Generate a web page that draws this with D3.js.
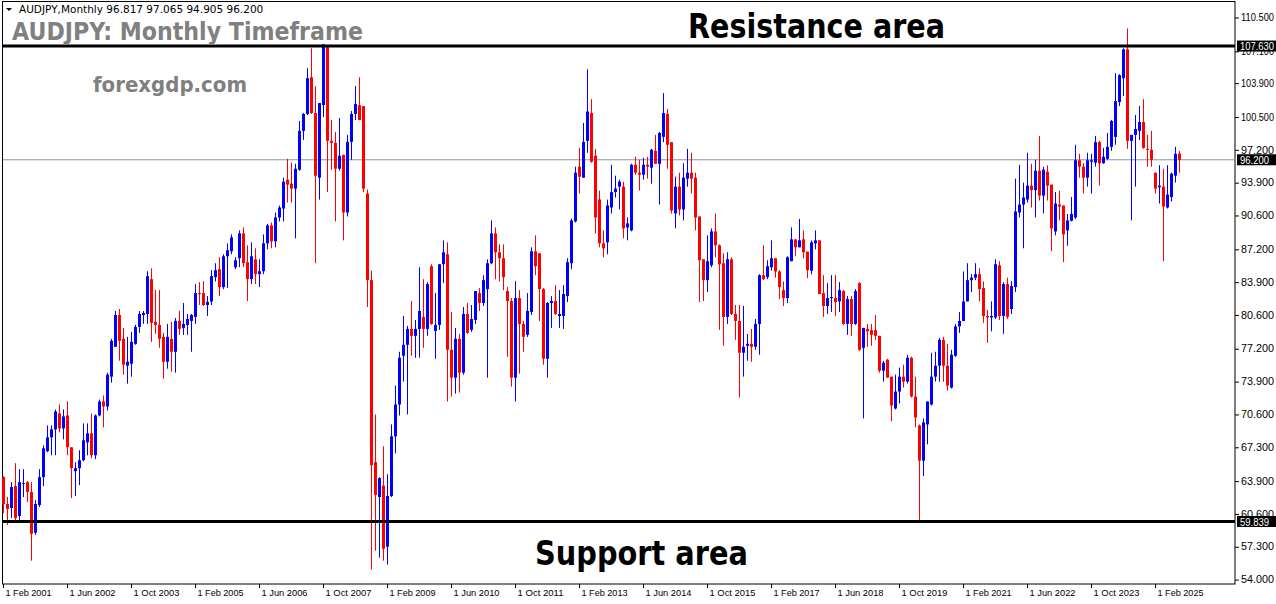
<!DOCTYPE html>
<html><head><meta charset="utf-8">
<script src="https://cdn.jsdelivr.net/npm/d3@7"></script>
<style>body{margin:0;background:#fff}svg{display:block}</style>
</head><body>
<svg id="c" width="1276" height="604"></svg>
<script>
const opens=[64.3,61.6,61.2,63.4,60.4,63.6,63.8,62.8,58.7,61.5,
64.3,66.9,68.3,69.1,70.7,69.2,70.5,67.3,64.9,65.2,
66.0,67.8,68.7,66.5,70.5,71.9,71.4,74.4,77.4,80.6,
78.2,75.5,75.7,77.7,79.4,80.6,80.7,84.2,79.9,79.6,
78.4,75.9,78.2,76.9,80.0,79.3,79.6,80.0,80.4,82.8,
82.8,81.6,81.95,84.4,85.2,83.4,86.5,87.0,85.4,86.3,
88.8,85.9,84.2,86.2,84.7,85.0,87.8,89.6,88.0,90.4,
91.3,94.2,93.8,93.3,95.2,99.1,100.8,104.5,100.9,94.4,
101.7,107.7,98.1,97.9,95.3,96.7,90.9,98.0,100.8,101.7,
101.6,92.8,84.1,65.8,62.3,63.45,57.3,62.4,68.4,71.6,
76.5,77.6,79.2,78.5,79.2,80.4,79.2,85.5,79.0,79.6,
85.7,86.7,77.1,74.3,78.2,74.8,80.7,79.1,80.1,82.8,
81.8,83.2,85.8,88.8,86.9,86.3,83.0,82.0,74.3,82.3,
79.7,78.6,80.9,87.0,86.8,83.2,76.2,81.8,82.0,80.5,
80.5,82.5,85.8,90.0,95.5,94.4,98.1,100.9,96.6,92.2,
87.8,87.9,91.4,92.95,93.5,93.5,89.4,89.1,95.7,94.9,
94.7,95.7,95.4,97.1,95.8,98.5,100.8,97.97,90.8,93.5,
91.2,94.3,94.9,94.4,90.5,86.2,84.1,85.6,89.0,87.6,
85.8,80.4,86.2,80.7,80.0,76.8,77.5,77.7,77.4,79.7,
84.6,84.4,85.4,86.3,84.97,83.1,82.3,86.0,88.2,87.4,
88.2,86.97,85.05,87.8,88.1,82.8,81.5,82.3,82.3,81.96,
83.0,79.7,82.2,79.7,83.8,77.3,79.2,79.07,79.07,78.5,
75.0,76.1,74.4,71.2,72.9,74.4,73.9,76.3,72.4,69.5,
65.96,69.6,71.6,74.4,75.5,78.1,75.5,73.3,76.5,79.45,
80.0,81.96,84.1,84.35,84.7,83.3,80.5,80.35,80.35,85.6,
80.5,83.7,81.2,83.4,90.9,91.7,92.2,93.6,93.15,95.1,
92.6,95.0,93.7,89.0,91.7,91.6,89.1,90.06,90.4,96.15,
95.5,94.4,96.0,95.9,97.97,95.85,96.3,97.5,98.5,102.0,
104.4,107.3,98.1,98.7,99.1,100.0,97.3,97.2,94.9,93.45,
93.5,91.4,92.45,94.6,96.82];
const closes=[61.6,61.1,63.3,60.2,63.8,63.7,62.8,58.6,61.6,64.3,
67.2,68.3,69.1,70.9,69.2,70.4,67.3,65.2,65.2,66.0,
68.0,68.7,66.5,70.5,71.9,71.4,74.6,78.0,80.6,78.0,
75.6,75.9,77.9,79.4,80.7,80.8,84.5,79.8,79.6,78.2,
75.9,78.4,76.9,80.0,79.2,79.7,80.2,80.6,82.8,82.7,
81.6,81.9,84.5,85.1,83.4,86.5,87.1,88.4,86.1,88.8,
85.8,84.2,86.5,84.7,85.0,87.8,89.6,88.0,90.4,91.4,
94.0,93.7,93.3,95.3,99.1,100.8,104.4,100.9,94.6,101.9,
107.8,98.1,97.9,95.3,96.6,90.9,98.0,100.8,101.8,100.2,
93.3,84.1,65.5,62.5,64.2,57.1,62.4,68.4,71.6,76.3,
77.6,79.2,78.5,79.2,81.0,79.2,83.7,79.7,79.6,85.7,
86.9,77.1,74.3,78.2,74.8,80.7,78.8,80.2,83.0,81.8,
84.1,85.8,88.8,86.9,86.3,84.4,82.0,74.3,82.3,79.7,
78.4,81.0,87.0,85.5,83.2,76.2,81.8,82.0,80.7,80.7,
82.7,85.9,90.1,94.9,94.5,98.0,101.05,96.0,90.4,87.8,
87.3,91.6,92.95,93.3,94.0,89.3,89.8,95.7,94.9,94.7,
95.7,95.5,97.2,95.8,98.9,100.9,97.7,91.1,93.5,91.2,
94.4,94.9,94.3,90.4,86.1,84.1,86.0,89.0,87.6,85.7,
80.4,86.2,80.7,80.0,76.8,77.4,77.7,77.4,79.7,84.6,
84.2,85.5,86.3,84.97,83.4,82.3,86.4,88.2,87.4,88.1,
86.9,85.1,87.9,88.1,82.7,81.5,82.3,82.4,81.9,83.1,
79.7,82.2,79.7,83.0,77.1,79.3,78.95,78.6,78.5,75.0,
75.8,74.3,71.5,72.9,74.4,73.9,76.3,72.4,70.3,65.96,
69.8,71.9,74.4,75.5,78.1,75.5,73.5,76.6,79.45,80.0,
81.96,84.1,84.35,84.7,83.2,80.5,80.35,80.5,85.7,80.5,
83.7,80.4,83.5,91.0,91.7,92.4,93.6,93.15,95.1,92.6,
95.2,93.6,89.3,91.8,91.5,88.7,90.1,90.75,96.15,95.5,
94.4,96.15,96.15,97.97,95.85,96.5,97.5,100.1,102.1,104.7,
107.3,98.1,98.7,99.3,100.0,97.4,97.2,96.2,93.3,93.6,
91.5,92.7,94.8,96.8,96.2];
const highs=[64.4,62.3,63.8,65.7,65.1,65.1,63.9,63.8,62.0,65.1,
67.5,69.5,69.5,71.1,71.6,71.1,71.9,67.3,65.8,67.0,
69.7,69.7,70.7,70.6,72.1,72.5,74.8,78.2,81.0,81.2,
79.3,78.4,78.9,79.6,81.0,81.0,85.0,85.3,83.1,83.1,
78.8,79.7,79.9,80.3,81.0,81.8,80.7,80.7,83.7,83.9,
84.0,82.5,85.1,85.8,86.4,86.7,87.8,88.7,86.4,89.1,
89.4,87.6,87.9,87.3,86.2,88.7,89.75,89.9,90.9,91.6,
94.4,96.3,95.9,95.8,100.1,100.9,105.4,107.4,103.6,101.9,
107.8,107.7,100.2,99.0,100.4,96.7,98.7,101.1,103.6,104.5,
101.6,93.2,85.05,70.6,64.3,67.4,64.6,69.6,73.5,76.9,
80.5,79.5,82.0,80.1,85.4,84.2,83.9,85.7,82.8,85.7,
88.1,87.9,80.9,79.3,78.7,81.4,81.8,81.6,83.0,83.3,
84.6,86.2,90.1,89.4,87.7,87.7,83.4,82.3,84.0,83.1,
80.0,82.8,87.4,88.6,86.8,83.3,81.9,82.5,83.6,83.1,
83.6,86.3,90.3,95.5,97.4,99.9,105.3,102.3,97.3,93.1,
89.1,92.2,95.7,94.6,94.2,94.0,90.4,95.8,96.5,96.2,
96.4,96.5,97.3,98.7,99.0,102.9,101.3,97.97,94.5,94.9,
95.85,97.3,96.9,94.9,90.5,86.2,88.6,89.3,90.8,87.7,
86.8,86.9,86.4,81.6,81.6,81.5,78.7,79.2,80.2,84.7,
87.6,86.1,88.1,86.3,85.1,83.97,86.5,89.4,88.2,90.25,
89.1,86.97,88.1,89.1,88.1,84.6,83.8,84.6,84.6,83.9,
83.1,82.5,82.5,83.2,83.9,79.3,79.7,79.7,80.6,78.5,
75.98,76.2,74.4,74.6,75.3,75.6,76.6,76.4,74.4,69.6,
70.2,71.9,76.8,76.9,78.3,78.4,77.7,77.1,79.7,80.9,
84.97,85.8,84.7,85.8,85.3,83.97,81.1,81.96,86.2,86.0,
83.9,84.35,84.0,94.3,95.7,93.9,96.9,95.8,96.2,98.6,
95.5,95.65,93.7,92.95,93.1,91.6,90.75,92.45,97.7,96.8,
95.85,96.9,96.8,98.6,98.1,97.4,98.9,100.2,104.9,104.8,
107.4,109.4,98.7,100.7,101.6,102.3,98.7,99.1,94.9,95.65,
95.3,95.65,94.9,97.5,97.07];
const lows=[60.7,59.5,60.2,59.8,59.9,62.3,61.8,55.9,58.5,61.3,
63.4,66.8,66.5,66.5,68.8,68.1,66.5,62.2,62.4,63.5,
65.9,66.5,66.2,66.1,70.4,69.3,71.0,73.8,77.4,76.0,
74.6,73.7,74.4,77.6,78.8,79.7,79.7,77.9,78.7,77.3,
74.2,75.2,74.9,74.8,78.6,78.6,78.6,76.9,79.7,81.6,
81.5,80.5,81.6,83.97,82.5,83.2,83.3,86.7,85.2,85.4,
85.4,82.0,83.7,83.7,83.4,84.7,87.2,87.3,87.4,90.0,
90.0,91.9,91.9,88.3,95.1,98.2,100.7,100.8,85.8,92.2,
100.5,92.95,95.2,90.0,95.1,88.1,90.5,96.2,100.2,100.2,
92.95,81.4,55.0,56.9,56.2,55.9,55.5,62.3,66.7,70.5,
73.9,70.6,76.5,76.3,76.3,77.3,78.5,79.6,76.2,79.1,
83.8,71.9,72.4,72.7,72.8,74.6,78.7,78.9,79.7,81.0,
81.5,74.3,85.7,84.2,83.97,83.1,76.4,73.4,71.9,74.7,
76.9,78.4,80.6,84.6,80.0,75.6,74.3,79.3,80.6,79.3,
79.2,81.9,85.2,89.9,92.8,94.4,96.9,95.9,88.8,87.4,
86.4,86.7,90.8,92.4,91.2,88.3,88.1,89.0,94.7,93.1,
94.2,94.3,93.8,95.8,91.7,97.97,95.3,90.8,89.3,90.6,
90.1,93.5,92.8,89.1,81.9,82.0,82.9,85.4,86.4,79.1,
77.5,79.7,80.6,78.1,72.3,74.4,76.0,75.9,77.1,76.6,
84.1,84.2,85.05,84.35,82.2,81.5,81.8,86.0,86.5,87.4,
86.3,84.3,84.7,87.2,82.7,80.4,80.7,80.9,80.5,80.9,
79.6,78.6,78.5,79.6,77.0,70.2,77.4,77.5,78.1,74.8,
73.9,74.3,69.9,71.1,71.7,73.3,73.7,72.3,69.3,59.9,
64.4,67.6,71.5,73.9,73.9,73.9,73.0,73.2,76.4,78.8,
79.96,81.96,82.9,84.1,81.96,79.8,77.8,78.95,80.2,80.1,
78.7,80.2,80.7,82.9,90.4,87.3,91.9,91.4,90.4,92.1,
90.8,92.1,87.0,88.6,90.1,85.9,87.55,90.0,90.25,94.4,
92.8,93.5,92.8,95.5,93.6,95.8,96.2,97.1,97.7,101.6,
102.6,97.3,90.1,93.5,98.2,97.3,95.5,95.5,92.8,91.8,
86.0,91.3,92.0,93.9,94.91];
const yTicks=[110.5,107.1,103.9,100.5,97.2,93.9,90.6,87.2,83.9,80.6,77.2,73.9,70.6,67.3,63.9,60.6,57.3,54.0];
const xTickLabels=["1 Feb 2001","1 Jun 2002","1 Oct 2003","1 Feb 2005","1 Jun 2006","1 Oct 2007","1 Feb 2009","1 Jun 2010","1 Oct 2011","1 Feb 2013","1 Jun 2014","1 Oct 2015","1 Feb 2017","1 Jun 2018","1 Oct 2019","1 Feb 2021","1 Jun 2022","1 Oct 2023","1 Feb 2025"];
const resistance=107.630, support=59.839, lastPrice=96.200;

const svg=d3.select("#c");
const n=closes.length;
const x=d3.scaleLinear().domain([0,294]).range([3,1179]);
const y=d3.scaleLinear().domain([54,110.5]).range([579.6,17.5]);
const R=1235, B=584;
const F="Tahoma, 'DejaVu Sans', sans-serif";
const LF="'Liberation Sans', Arial, sans-serif";

svg.append("rect").attr("x",2.5).attr("y",1.5).attr("width",R-2.5).attr("height",B-1.5).attr("fill","none").attr("stroke","#000");

const ya=svg.append("g").attr("transform",`translate(${R},0)`)
 .call(d3.axisRight(y).tickValues(yTicks).tickSize(4).tickFormat(d3.format(".3f")));
ya.select(".domain").remove();
ya.selectAll("text").attr("font-family",LF).attr("font-size",10).attr("fill","#000").attr("x",6)
 .attr("textLength",33).attr("lengthAdjust","spacingAndGlyphs");

const xa=svg.append("g").attr("transform",`translate(0,${B})`)
 .call(d3.axisBottom(x).tickValues(xTickLabels.map((_,i)=>i*16)).tickSize(4).tickFormat((d,i)=>xTickLabels[i]));
xa.select(".domain").remove();
xa.selectAll("text").attr("font-family",LF).attr("font-size",9.5).attr("fill","#000").attr("text-anchor","start").attr("x",2).attr("dy","0.55em")
 .each(function(){const t=this.textContent; d3.select(this).attr("textLength",t.length*4.6).attr("lengthAdjust","spacingAndGlyphs");});

svg.append("line").attr("x1",3).attr("x2",R).attr("y1",y(lastPrice)).attr("y2",y(lastPrice)).attr("stroke","#8a949c").attr("stroke-width",1);

const idx=d3.range(n);
const col=i=>closes[i]>=opens[i]?"#0000ff":"#ff0000";
const g=svg.append("g");
g.selectAll("line.w").data(idx).join("line").attr("class","w")
 .attr("x1",i=>Math.round(x(i))+0.5).attr("x2",i=>Math.round(x(i))+0.5)
 .attr("y1",i=>y(highs[i])).attr("y2",i=>y(lows[i])).attr("stroke",col).attr("stroke-width",1);
g.selectAll("rect.b").data(idx).join("rect").attr("class","b")
 .attr("x",i=>Math.round(x(i))-1).attr("width",3)
 .attr("y",i=>y(Math.max(opens[i],closes[i])))
 .attr("height",i=>Math.max(1,Math.abs(y(opens[i])-y(closes[i]))))
 .attr("fill",col);

function tag(v,txt){
 svg.append("rect").attr("x",R+2).attr("y",y(v)-5.5).attr("width",39).attr("height",11).attr("fill","#000");
 svg.append("text").attr("x",R+5).attr("y",y(v)+4).text(txt).attr("font-family",LF).attr("font-size",10).attr("fill","#fff")
  .attr("textLength",txt.length>6?34:29).attr("lengthAdjust","spacingAndGlyphs");
}
function level(v,txt){
 svg.append("line").attr("x1",3).attr("x2",R).attr("y1",y(v)).attr("y2",y(v)).attr("stroke","#000").attr("stroke-width",3);
 tag(v,txt);
}
level(resistance,"107.630");
level(support,"59.839");
tag(lastPrice,"96.200");

svg.append("path").attr("d","M6,8 L12,8 L9,11 Z").attr("fill","#000");
svg.append("text").attr("x",19).attr("y",13).text("AUDJPY,Monthly  96.817 97.065 94.905 96.200")
 .attr("font-family",F).attr("font-size",10.5).attr("fill","#000");
function big(t,xx,yy,size,fill,len){
 svg.append("text").attr("x",xx).attr("y",yy).text(t).attr("font-family","'DejaVu Sans', Verdana, sans-serif")
  .attr("font-weight","bold").attr("font-size",size).attr("fill",fill)
  .attr("textLength",len).attr("lengthAdjust","spacingAndGlyphs");
}
big("AUDJPY: Monthly Timeframe",12,40,25,"#808080",351);
big("forexgdp.com",93,92,21,"#808080",154);
big("Resistance area",688,38,33,"#000",257);
big("Support area",535,565,33,"#000",213);
</script>
</body></html>
